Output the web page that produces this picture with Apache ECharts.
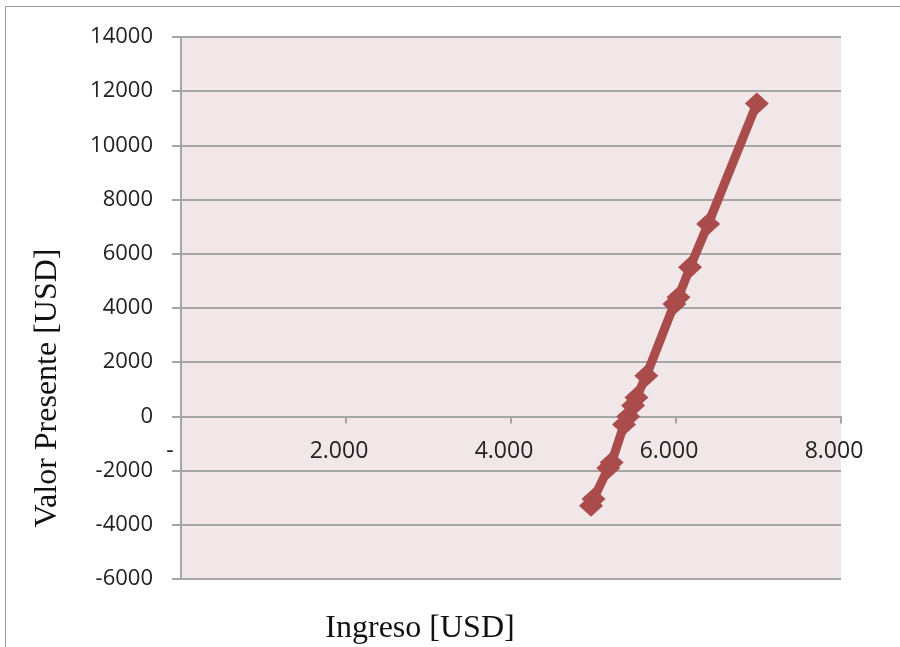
<!DOCTYPE html>
<html>
<head>
<meta charset="utf-8">
<script src="https://cdn.jsdelivr.net/npm/echarts@6/dist/echarts.min.js"></script>
<style>
  html, body { margin: 0; padding: 0; background: #ffffff; }
  #chart { width: 900px; height: 647px; }
</style>
</head>
<body>
<div id="chart"></div>
<script>
// Ingreso (USD) vs. Valor Presente (USD)
const ingreso = [4970, 5000, 5180, 5220, 5370, 5420, 5480, 5520, 5640, 5980, 6030, 6170, 6390, 6980];
const valorPresente = [-3300, -3050, -1900, -1700, -300, 0, 400, 700, 1500, 4150, 4400, 5500, 7100, 11550];

const xTicks = { min: 0, max: 8000, step: 2000 };
const yTicks = { min: -6000, max: 14000, step: 2000 };

const xTitle = 'Ingreso [USD]';
const yTitle = 'Valor Presente [USD]';

const points = ingreso.map((x, i) => [x, valorPresente[i]]);

// plot box in pixels
const gridBox = { left: 181, right: 59, top: 37, bottom: 68 };
const plotHeight = 647 - gridBox.top - gridBox.bottom;
// shift the horizontal axis up so it crosses the vertical axis at zero
const zeroOffset = -(0 - yTicks.min) / (yTicks.max - yTicks.min) * plotHeight;

// accounting-style labels: dot thousands separator, dash for zero, trailing gap
function fmtAccounting(v) {
  if (v === 0) return '{z|-}';
  return '{n|' + String(v).replace(/\B(?=(\d{3})+(?!\d))/g, '.') + '}';
}

const chart = echarts.init(document.getElementById('chart'), null, { renderer: 'canvas' });

const lineColor = '#AA4C4C';
const gridColor = '#A6A6A6';
const labelFont = { fontFamily: 'Open Sans', fontSize: 23, color: '#222222' };

chart.setOption({
  animation: false,
  backgroundColor: '#ffffff',
  grid: {
    left: gridBox.left, right: gridBox.right, top: gridBox.top, bottom: gridBox.bottom,
    show: true, backgroundColor: '#F1E7E8', borderWidth: 0
  },
  xAxis: {
    type: 'value',
    position: 'bottom',
    offset: zeroOffset,
    min: xTicks.min, max: xTicks.max, interval: xTicks.step,
    axisLine: { show: true, onZero: false, lineStyle: { color: gridColor, width: 2 } },
    axisTick: { show: true, length: 7, lineStyle: { color: gridColor, width: 2 } },
    splitLine: { show: false },
    axisLabel: {
      margin: 24,
      ...labelFont,
      formatter: fmtAccounting,
      rich: {
        z: { ...labelFont, padding: [0, 22, 0, 0] },
        n: { ...labelFont, padding: [0, 14, 0, 0] }
      }
    }
  },
  yAxis: {
    type: 'value',
    min: yTicks.min, max: yTicks.max, interval: yTicks.step,
    axisLine: { show: true, onZero: false, lineStyle: { color: gridColor, width: 2 } },
    axisTick: { show: true, length: 9, lineStyle: { color: gridColor, width: 2 } },
    splitLine: { show: true, lineStyle: { color: gridColor, width: 2 } },
    axisLabel: {
      margin: 28,
      color: '#222222',
      fontFamily: 'Open Sans',
      fontSize: 22,
      formatter: (v) => String(v)
    }
  },
  series: [{
    type: 'line',
    data: points,
    lineStyle: { color: lineColor, width: 9 },
    itemStyle: { color: lineColor },
    symbol: 'diamond',
    symbolSize: [24, 22],
    z: 3
  }],
  graphic: [
    {
      type: 'polyline',
      shape: { points: [[5.5, 647], [5.5, 6.5], [900, 6.5]] },
      style: { stroke: '#9A9A9A', lineWidth: 1, fill: null },
      silent: true
    },
    {
      type: 'text',
      x: 48, y: 388,
      rotation: Math.PI / 2,
      style: {
        text: yTitle,
        fontFamily: 'Liberation Serif',
        fontSize: 32,
        fill: '#111111',
        align: 'center',
        verticalAlign: 'middle'
      }
    },
    {
      type: 'text',
      x: 420, y: 629,
      style: {
        text: xTitle,
        fontFamily: 'Liberation Serif',
        fontSize: 32,
        fill: '#111111',
        align: 'center',
        verticalAlign: 'middle'
      }
    }
  ]
});
</script>
</body>
</html>
